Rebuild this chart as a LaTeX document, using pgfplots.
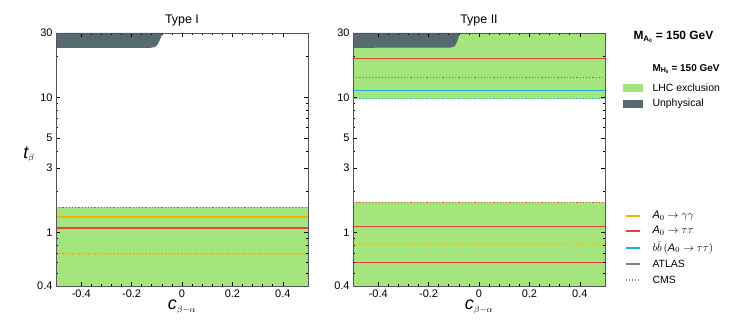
\documentclass[border=0pt]{standalone}
\usepackage{fontspec}
\setmainfont{Liberation Sans}
\usepackage{pgfplots}
\pgfplotsset{compat=1.18}

\definecolor{lhc}{HTML}{A4E57E}
\definecolor{unphys}{HTML}{566A72}
\definecolor{cred}{HTML}{E0443A}
\definecolor{cyel}{HTML}{F0B400}
\definecolor{ccyan}{HTML}{20B0E0}
\definecolor{axgray}{HTML}{555555}

\pgfplotsset{
  panel/.style={
    scale only axis, width=252bp, height=253bp,
    xmin=-0.5, xmax=0.5, ymin=0.4, ymax=30,
    xtick={-0.4,-0.2,0,0.2,0.4}, minor x tick num=4,
    ytick={0.4,1,3,5,10,30}, yticklabels={0.4,1,3,5,10,30},
    minor ytick={0.5,0.6,0.7,0.8,0.9,2,3,4,5,6,7,8,9,20},
    tick align=inside, axis on top,
    axis line style={axgray, line width=0.9bp},
    tick style={black, line width=0.6bp},
    major tick length=4bp, minor tick length=2bp,
    ticklabel style={font=\fontsize{11}{12}\selectfont},
    title style={font=\fontsize{12.5}{14}\selectfont, yshift=-3bp},
    /pgf/number format/assume math mode=true,
  },
  hl/.style={line width=1.2bp, no marks},
}

\begin{document}
\begin{tikzpicture}[x=1bp,y=1bp]
\path[use as bounding box] (0,0) rectangle (747,320);

% Type I
\begin{semilogyaxis}[panel, at={(56bp,34bp)}, anchor=south west, title={Type I}]
\addplot[fill=lhc, draw=none] coordinates {(-0.5,0.4)(0.5,0.4)(0.5,1.53)(-0.5,1.53)} -- cycle;
\addplot[hl, draw=cred, dotted] coordinates {(-0.5,1.53)(0.5,1.53)};
\addplot[hl, draw=cyel] coordinates {(-0.5,1.30)(0.5,1.30)};
\addplot[hl, draw=cred] coordinates {(-0.5,1.075)(0.5,1.075)};
\addplot[hl, draw=cyel, dotted] coordinates {(-0.5,0.69)(0.5,0.69)};
\addplot[fill=unphys, draw=none] coordinates
  {(-0.5,30)(-0.5,23.3)(-0.125,23.3)(-0.108,23.6)(-0.097,24.6)(-0.089,26.4)(-0.082,28.3)(-0.076,30)} -- cycle;
\end{semilogyaxis}

% Type II
\begin{semilogyaxis}[panel, at={(353bp,34bp)}, anchor=south west, title={Type II}]
\addplot[fill=lhc, draw=none] coordinates {(-0.5,0.4)(0.5,0.4)(0.5,1.67)(-0.5,1.67)} -- cycle;
\addplot[fill=lhc, draw=none] coordinates {(-0.5,9.75)(0.5,9.75)(0.5,30)(-0.5,30)} -- cycle;
\addplot[hl, draw=cred, dotted] coordinates {(-0.5,1.67)(0.5,1.67)};
\addplot[hl, draw=cred] coordinates {(-0.5,1.11)(0.5,1.11)};
\addplot[hl, draw=cyel, dotted] coordinates {(-0.5,0.81)(0.5,0.81)};
\addplot[hl, draw=cred] coordinates {(-0.5,0.60)(0.5,0.60)};
\addplot[hl, draw=ccyan, dotted] coordinates {(-0.5,9.8)(0.5,9.8)};
\addplot[hl, draw=ccyan] coordinates {(-0.5,11.2)(0.5,11.2)};
\addplot[hl, draw=cred, dotted] coordinates {(-0.5,14.1)(0.5,14.1)};
\addplot[hl, draw=cred] coordinates {(-0.5,19.3)(0.5,19.3)};
\addplot[fill=unphys, draw=none] coordinates
  {(-0.5,30)(-0.5,23.3)(-0.112,23.4)(-0.097,23.9)(-0.089,25.3)(-0.082,27.6)(-0.076,30)} -- cycle;
\end{semilogyaxis}

% axis labels
\node[font=\fontsize{13}{13}\selectfont] at (182,13) {{\itshape\fontsize{18}{18}\selectfont c}$_{\beta-\alpha}$};
\node[font=\fontsize{13}{13}\selectfont] at (479,13) {{\itshape\fontsize{18}{18}\selectfont c}$_{\beta-\alpha}$};
\node[font=\fontsize{13}{13}\selectfont] at (29,165) {{\itshape\fontsize{18}{18}\selectfont t}$_{\beta}$};

% legend
\node[anchor=west, font=\bfseries\fontsize{12}{13}\selectfont] at (630,283) {M\textsubscript{A\raisebox{-0.35ex}{\fontsize{5}{5}\selectfont 0}} = 150 GeV};
\node[anchor=west, font=\bfseries\fontsize{10}{11}\selectfont] at (649,251) {M\textsubscript{H\raisebox{-0.35ex}{\fontsize{4.5}{5}\selectfont 0}} = 150 GeV};
\fill[lhc] (623,228.5) rectangle (643,236);
\node[anchor=west, font=\fontsize{10.5}{12}\selectfont] at (649,232) {LHC exclusion};
\fill[unphys] (623,212.5) rectangle (643,220);
\node[anchor=west, font=\fontsize{10.5}{12}\selectfont] at (649,216) {Unphysical};

\draw[cyel, line width=1.1bp] (626,104) -- (640,104);
\node[anchor=west, font=\fontsize{11}{12}\selectfont] at (649,104) {\textit{A}$_0\to\gamma\gamma$};
\draw[cred, line width=1.1bp] (626,89) -- (640,89);
\node[anchor=west, font=\fontsize{11}{12}\selectfont] at (649,89) {\textit{A}$_0\to\tau\tau$};
\draw[ccyan, line width=1.1bp] (626,72) -- (640,72);
\node[anchor=west, font=\fontsize{11}{12}\selectfont] at (649,72) {$b\bar{b}\,($\textit{A}$_0\to\tau\tau)$};
\draw[gray, line width=1.1bp] (626,56) -- (640,56);
\node[anchor=west, font=\fontsize{10.5}{12}\selectfont] at (649,56) {ATLAS};
\draw[gray, line width=1.1bp, dotted] (626,40) -- (640,40);
\node[anchor=west, font=\fontsize{10.5}{12}\selectfont] at (649,40) {CMS};
\end{tikzpicture}
\end{document}
